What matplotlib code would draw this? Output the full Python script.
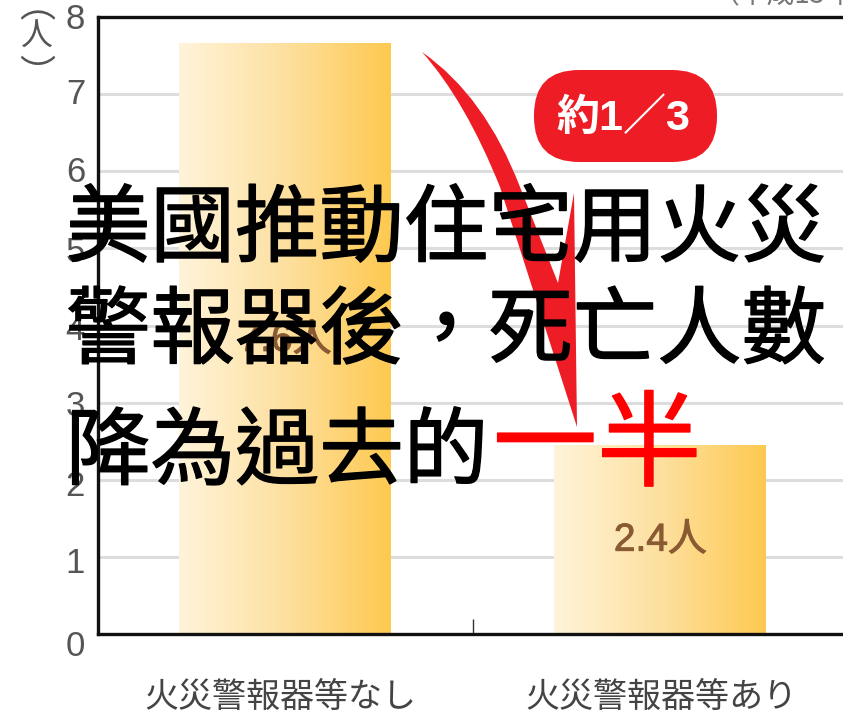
import numpy as np
import matplotlib
matplotlib.use("Agg")
import matplotlib.pyplot as plt
import matplotlib.patheffects as pe
from matplotlib.colors import LinearSegmentedColormap
from matplotlib.patches import FancyBboxPatch, PathPatch
from matplotlib.path import Path
from matplotlib.transforms import Affine2D, ScaledTranslation

categories = ["火災警報器等なし", "火災警報器等あり"]
deaths = [7.66, 2.45]
bar_labels = ["7.6人", "2.4人"]
y_ticks = [0, 1, 2, 3, 4, 5, 6, 7, 8]

title_lines = ["美國推動住宅用火災", "警報器後，死亡人數", "降為過去的"]
title_red = "一半"
badge_text = "約1／3"
year_text = "（平成15年）"

CJK = ["Noto Sans CJK TC", "DejaVu Sans"]
JP = ["Noto Sans CJK JP", "DejaVu Sans"]
LATIN = ["Liberation Sans", "Noto Sans CJK JP"]

W, H = 843, 715
fig = plt.figure(figsize=(W / 100, H / 100), dpi=100)
# axes runs off the right edge of the image like the cropped original
ax = fig.add_axes([97.5 / W, 1 - 634 / H, (848 - 97.5) / W, (634 - 17) / H])

# pixel coords (y down) for the things sitting on top of the chart
px = Affine2D().scale(1, -1).translate(0, H)

ax.set_xlim(0, 2)
ax.set_ylim(0, 8)

for s in ["left", "top", "bottom"]:
  ax.spines[s].set_linewidth(2.4)
  ax.spines[s].set_color("#111111")
ax.spines["right"].set_visible(False)

ax.set_yticks(y_ticks)
ax.yaxis.grid(True, color="#dddddd", linewidth=2.2)
ax.set_axisbelow(True)
ax.tick_params(axis="y", length=0, pad=9, labelsize=25, labelcolor="#555555")
# printed numbers sit a few pixels off their grid lines
label_nudge = [9, 3, 3, 0, 2, 1, -2, -3, -1]
for lab, dy in zip(ax.get_yticklabels(), label_nudge):
  lab.set_family(LATIN)
  lab.set_transform(lab.get_transform() + ScaledTranslation(0, -dy / 100, fig.dpi_scale_trans))

x = [0.5, 1.5]
ax.set_xticks(x)
ax.set_xticklabels(categories, family=JP, fontsize=24.5, color="#444444")
ax.tick_params(axis="x", which="major", length=0, pad=33)
for lab, dx in zip(ax.get_xticklabels(), [-5, 1]):
  lab.set_transform(lab.get_transform() + ScaledTranslation(dx / 100, 0, fig.dpi_scale_trans))
ax.set_xticks([1], minor=True)
ax.tick_params(axis="x", which="minor", direction="in", length=11, width=1, color="#333333")

# gradient bars
cmap = LinearSegmentedColormap.from_list("bar", ["#fff4da", "#fde0a0", "#fec950"])
grad = np.linspace(0, 1, 256).reshape(1, -1)
bars = ax.bar(x, deaths, width=212 / 375.25, color="none", linewidth=0)
for b in bars:
  ax.imshow(grad, cmap=cmap, aspect="auto", zorder=2,
            extent=[b.get_x(), b.get_x() + b.get_width(), 0, b.get_height()])
ax.set_xlim(0, 2)
ax.set_ylim(0, 8)

label_y = [3.80, 1.21]
for xi, yi, t in zip(x, label_y, bar_labels):
  ax.text(xi, yi, t, ha="center", va="center", fontsize=28, color="#8a5a32", family=LATIN, zorder=3,
          path_effects=[pe.withStroke(linewidth=0.7, foreground="#8a5a32")])

# red swoosh
verts = [(422, 52), (485, 96), (520, 187), (558, 283), (574, 193), (577, 427),
         (500, 187), (465, 100), (422, 52), (422, 52)]
codes = [Path.MOVETO, Path.CURVE3, Path.CURVE3, Path.LINETO, Path.LINETO, Path.LINETO,
         Path.LINETO, Path.CURVE3, Path.CURVE3, Path.CLOSEPOLY]
fig.add_artist(PathPatch(Path(verts, codes), facecolor="#ee1c25", edgecolor="none", transform=px, zorder=4))

# badge
fig.add_artist(FancyBboxPatch((579, 115), 93, 2, boxstyle="round,pad=45,rounding_size=45",
                              facecolor="#ee1c25", edgecolor="none", transform=px, zorder=4))
fig.text(623, 119, badge_text, transform=px, ha="center", va="center", color="white",
         fontsize=31, fontweight="bold", family=LATIN, zorder=5)

# unit label, written vertically with sideways brackets
fig.text(37, 37, "人", transform=px, ha="center", va="center", color="#555555",
         fontsize=23, family=JP, zorder=5)
fig.text(37, 7, "︵", transform=px, ha="center", va="center", color="#555555",
         fontsize=26, family=JP, zorder=5)
fig.text(37, 76, "︶", transform=px, ha="center", va="center", color="#555555",
         fontsize=26, family=JP, zorder=5)
fig.text(712, 3, year_text, transform=px, ha="left", va="baseline", color="#777777",
         fontsize=20, family=JP, zorder=5)

# overlaid caption
thick = [pe.withStroke(linewidth=1, foreground="black")]
baselines = [255, 357, 478]
for line, y in zip(title_lines, baselines):
  fig.text(66, y, line, transform=px, ha="left", va="baseline", color="black",
           fontsize=60.8, family=CJK, zorder=10, path_effects=thick)
fig.text(493, baselines[2], title_red, transform=px, ha="left", va="baseline", color="#ff0000",
         fontsize=75, family=CJK, zorder=10,
         path_effects=[pe.withStroke(linewidth=1, foreground="#ff0000")])

fig.savefig("out.png", dpi=100)
